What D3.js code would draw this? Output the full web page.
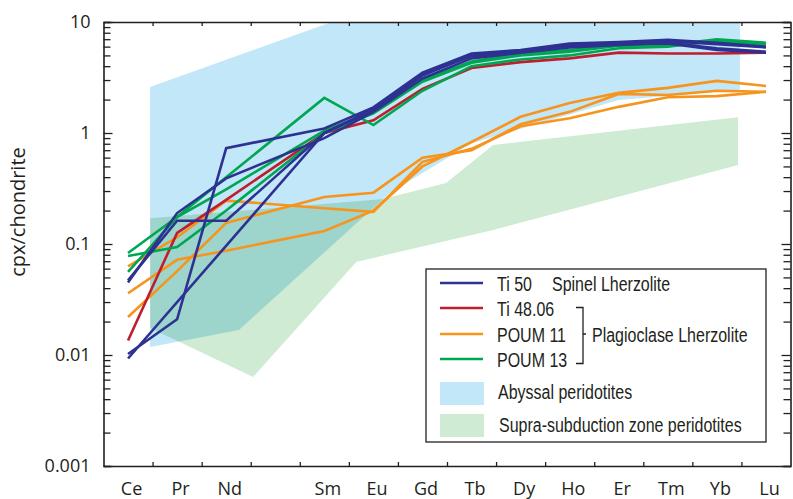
<!DOCTYPE html>
<html><head><meta charset="utf-8">
<script src="https://cdn.jsdelivr.net/npm/d3@7"></script>
<style>
html,body{margin:0;padding:0;background:#fff;}
svg{display:block;}
.ax text{font-family:"Open Sans",sans-serif;font-size:18px;fill:#231f20;}
.lg{font-family:"Liberation Sans",Arial,sans-serif;font-size:19.5px;fill:#231f20;}
</style></head>
<body>
<svg id="c" width="793" height="499"></svg>
<script>
// ---- data ----
const elements = ["Ce","Pr","Nd","Pm","Sm","Eu","Gd","Tb","Dy","Ho","Er","Tm","Yb","Lu"];
const elementLabels = ["Ce","Pr","Nd","","Sm","Eu","Gd","Tb","Dy","Ho","Er","Tm","Yb","Lu"];
const yTickValues = [0.001,0.01,0.1,1,10];
const yTickLabels = ["0.001","0.01","0.1","1","10"];

// Ti 50 (Spinel Lherzolite)
const ti50 = [
  [0.0102,0.021,0.73,null,1.1,1.7,3.5,5.2,5.6,6.4,6.6,6.9,6.5,6.0],
  [0.0093,null,null,null,1.0,1.6,3.3,5.0,5.5,6.2,6.5,6.7,6.3,5.9],
  [0.047,0.162,0.162,null,1.0,1.65,3.4,4.9,5.4,6.0,6.3,6.4,5.6,5.3],
  [0.045,0.19,0.39,null,0.9,1.55,3.1,4.7,5.3,5.9,6.2,6.5,5.8,5.4]
];
// Ti 48.06
const ti4806 = [
  [0.0135,0.126,0.25,null,1.0,1.3,2.5,3.85,4.35,4.7,5.3,5.2,5.2,5.3]
];
// POUM 11
const poum11 = [
  [0.063,0.115,0.246,null,0.21,0.195,0.55,0.72,1.15,1.36,1.72,2.1,2.15,2.35],
  [0.022,0.057,0.155,null,0.265,0.29,0.6,0.7,1.2,1.55,2.25,2.2,2.4,2.35],
  [0.036,0.072,0.087,null,0.131,0.2,0.5,0.83,1.4,1.86,2.3,2.55,2.95,2.65]
];
// POUM 13
const poum13 = [
  [0.083,0.175,0.4,null,2.07,1.18,2.4,4.0,4.6,5.0,5.8,6.0,6.8,6.4],
  [0.078,0.094,0.2,null,1.0,1.5,2.9,4.3,5.0,5.4,6.1,6.2,7.0,6.5],
  [0.056,0.175,0.31,null,1.05,1.55,3.0,4.4,5.2,5.6,6.2,6.3,6.6,6.3]
];
// Fields: [element position, value]
const abyssalField = [[0.45,2.6],[4.15,10],[12.47,10],[12.47,2.44],[10,1.98],[7,0.81],[5.34,0.29],[2.26,0.0168],[0.45,0.0118]];
const sszField = [[0.45,0.171],[5.2,0.254],[6.48,0.355],[7.44,0.78],[12.43,1.39],[12.43,0.515],[7.44,0.134],[4.65,0.069],[2.55,0.00634],[0.45,0.0175]];

const seriesNames = ["Ti 50","Ti 48.06","POUM 11","POUM 13"];
const seriesColors = ["#2e3192","#be1e2d","#f7941d","#00a651"];

// ---- chart ----
const svg = d3.select("#c");
svg.append("rect").attr("width",793).attr("height",499).attr("fill","#fff");
const L=103.5,R=790.5,T=22,B=466;
const x = d3.scaleLinear().domain([-0.5,13.5]).range([L,R]);
const y = d3.scaleLog().domain([0.001,10]).range([B,T]);

svg.append("clipPath").attr("id","clip").append("rect")
  .attr("x",L).attr("y",T).attr("width",R-L).attr("height",B-T);
const plot = svg.append("g").attr("clip-path","url(#clip)").style("isolation","isolate");

const poly = d3.line().x(d=>x(d[0])).y(d=>y(d[1]));
plot.append("path").attr("d",poly(abyssalField)+"Z").attr("fill","#c1e7f8");
plot.append("path").attr("d",poly(sszField)+"Z").attr("fill","#cfebd3").style("mix-blend-mode","multiply");

const line = d3.line().x(d=>x(d.i)).y(d=>y(d.v));
function drawSeries(arr,color){
  arr.forEach(s=>{
    const pts = s.map((v,i)=>({i,v})).filter(d=>d.v!=null);
    plot.append("path").attr("d",line(pts)).attr("fill","none")
      .attr("stroke",color).attr("stroke-width",2.6).attr("stroke-linejoin","miter");
  });
}
drawSeries(poum11,seriesColors[2]);
drawSeries(ti4806,seriesColors[1]);
drawSeries(poum13,seriesColors[3]);
drawSeries(ti50,seriesColors[0]);

// ---- axes ----
const axCol="#231f20";
const minor=[];
for(let e=-3;e<1;e++) for(let k=1;k<=9;k++) minor.push(k*Math.pow(10,e));
minor.push(10);
const isMajor = d=>yTickValues.some(t=>Math.abs(t-d)/t<1e-6);

const gl = svg.append("g").attr("class","ax").attr("transform",`translate(${L},0)`)
  .call(d3.axisLeft(y).tickValues(minor).tickSize(-7).tickFormat(""));
gl.selectAll(".tick line").attr("x2",d=>isMajor(d)?9:7);
const gr = svg.append("g").attr("class","ax").attr("transform",`translate(${R},0)`)
  .call(d3.axisRight(y).tickValues(minor).tickSize(-7).tickFormat(""));
gr.selectAll(".tick line").attr("x2",d=>isMajor(d)?-9:-7);
const glab = svg.append("g").attr("class","ax").attr("transform",`translate(${L},0)`)
  .call(d3.axisLeft(y).tickValues(yTickValues).tickSize(0).tickPadding(13)
  .tickFormat((d,i)=>yTickLabels[i]));
glab.select(".domain").remove();

const bounds = d3.range(0.5,13,1);
svg.append("g").attr("class","ax").attr("transform",`translate(0,${B})`)
  .call(d3.axisBottom(x).tickValues(bounds).tickSize(-4).tickSizeOuter(0).tickFormat(""));
svg.append("g").attr("class","ax").attr("transform",`translate(0,${T})`)
  .call(d3.axisTop(x).tickValues(bounds).tickSize(-4).tickSizeOuter(0).tickFormat(""));
const gx = svg.append("g").attr("class","ax").attr("transform",`translate(0,${B})`)
  .call(d3.axisBottom(x).tickValues(d3.range(elements.length).filter(i=>elementLabels[i]!==""))
  .tickSize(0).tickPadding(16).tickFormat(i=>elementLabels[i]));
gx.select(".domain").remove();
gx.selectAll("text").attr("dx",3);

svg.selectAll(".ax .domain").attr("stroke",axCol).attr("stroke-width",1.6);
svg.selectAll(".ax .tick line").attr("stroke",axCol).attr("stroke-width",1.3);

svg.append("text").attr("transform","translate(25,212) rotate(-90)")
  .attr("text-anchor","middle").style("font-family","'Open Sans',sans-serif")
  .style("font-size","20px").attr("fill",axCol).text("cpx/chondrite");

// ---- legend ----
const lg = svg.append("g");
lg.append("rect").attr("x",426).attr("y",269).attr("width",340).attr("height",173)
  .attr("fill","#fff").attr("stroke",axCol).attr("stroke-width",1.3);
const rowsY=[283,308,334,359];
seriesNames.forEach((n,i)=>{
  lg.append("line").attr("x1",440).attr("x2",483).attr("y1",rowsY[i]).attr("y2",rowsY[i])
    .attr("stroke",seriesColors[i]).attr("stroke-width",2.6);
  lg.append("text").attr("class","lg").attr("transform",`translate(497,${rowsY[i]+7.5}) scale(0.82,1)`).text(n);
});
lg.append("text").attr("class","lg").attr("transform",`translate(552,290.5) scale(0.82,1)`).text("Spinel Lherzolite");
lg.append("path").attr("d","M576,307.5H583V363.5H576M583,334H586").attr("fill","none")
  .attr("stroke",axCol).attr("stroke-width",1.3);
lg.append("text").attr("class","lg").attr("transform",`translate(592,341.5) scale(0.82,1)`).text("Plagioclase Lherzolite");
lg.append("rect").attr("x",440).attr("y",382).attr("width",44).attr("height",23).attr("fill","#c1e7f8");
lg.append("rect").attr("x",440).attr("y",414).attr("width",44).attr("height",23).attr("fill","#cfebd3");
lg.append("text").attr("class","lg").attr("transform",`translate(498,399) scale(0.82,1)`).text("Abyssal peridotites");
lg.append("text").attr("class","lg").attr("transform",`translate(499,432) scale(0.82,1)`).text("Supra-subduction zone peridotites");
</script>
</body></html>
